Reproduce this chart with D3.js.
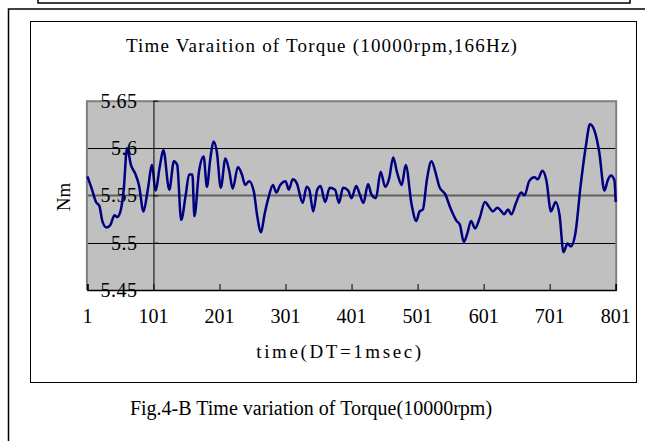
<!DOCTYPE html>
<html>
<head>
<meta charset="utf-8">
<script src="https://cdn.jsdelivr.net/npm/d3@7/dist/d3.min.js"></script>
<style>
  body { margin: 0; background: #fff; }
  svg { display: block; }
  text { font-family: "Liberation Serif", "DejaVu Serif", serif; fill: #000; }
</style>
</head>
<body>
<div class="graph"></div>
<script>
// sample index and torque (Nm)
var times = [1, 8, 14, 19, 24, 30, 36, 42, 46, 51, 56, 61, 67, 74, 79, 86, 92, 99, 104, 111,
  116, 125, 132, 137, 143, 150, 155, 160, 163, 170, 177, 182, 187, 192, 197, 203, 210, 216,
  221, 229, 235, 240, 246, 253, 258, 264, 269, 275, 282, 287, 293, 301, 306, 312, 318, 327,
  333, 337, 343, 349, 354, 361, 368, 376, 382, 388, 396, 401, 408, 413, 419, 426, 431, 438,
  445, 452, 458, 464, 470, 477, 483, 492, 499, 504, 509, 515, 522, 529, 534, 543, 551, 560,
  565, 571, 576, 582, 588, 595, 603, 609, 615, 622, 628, 632, 638, 643, 650, 658, 663, 670,
  678, 683, 690, 696, 703, 710, 716, 722, 728, 733, 740, 748, 756, 762, 769, 776, 784, 789,
  794, 799, 801];
var torque = [5.570, 5.556, 5.543, 5.539, 5.522, 5.516, 5.519, 5.529, 5.527, 5.533, 5.556,
  5.600, 5.582, 5.572, 5.561, 5.533, 5.554, 5.582, 5.555, 5.582, 5.598, 5.556, 5.586, 5.582,
  5.524, 5.551, 5.572, 5.572, 5.528, 5.575, 5.591, 5.559, 5.588, 5.607, 5.596, 5.558, 5.589,
  5.575, 5.557, 5.580, 5.572, 5.561, 5.565, 5.554, 5.529, 5.511, 5.529, 5.547, 5.561, 5.553,
  5.561, 5.565, 5.556, 5.567, 5.563, 5.542, 5.559, 5.556, 5.533, 5.556, 5.560, 5.543, 5.558,
  5.556, 5.542, 5.558, 5.555, 5.547, 5.560, 5.552, 5.542, 5.562, 5.551, 5.547, 5.575, 5.559,
  5.568, 5.590, 5.574, 5.561, 5.582, 5.540, 5.523, 5.533, 5.535, 5.566, 5.586, 5.572, 5.559,
  5.551, 5.536, 5.523, 5.519, 5.501, 5.509, 5.523, 5.515, 5.526, 5.543, 5.538, 5.533, 5.537,
  5.533, 5.530, 5.535, 5.530, 5.542, 5.553, 5.550, 5.565, 5.569, 5.567, 5.576, 5.566, 5.533,
  5.543, 5.529, 5.490, 5.499, 5.496, 5.510, 5.561, 5.603, 5.625, 5.618, 5.596, 5.555, 5.566,
  5.571, 5.566, 5.543];

var xTicks = [1, 101, 201, 301, 401, 501, 601, 701, 801];
var yTicks = [5.45, 5.5, 5.55, 5.6, 5.65];
var gridVals = [5.5, 5.55, 5.6];

var chartTitle = 'Time Varaition of Torque (10000rpm,166Hz)';
var xTitle = 'time(DT=1msec)';
var yTitle = 'Nm';
var caption = 'Fig.4-B Time variation of Torque(10000rpm)';

var config = {
  width: 645,
  height: 441,
  plot: { left: 87.4, right: 615.7, top: 100.7, bottom: 290 }
};

var svg = d3.select('.graph')
  .append('svg')
  .attr('width', config.width)
  .attr('height', config.height);

var x = d3.scaleLinear().domain([1, 801]).range([config.plot.left, config.plot.right]);
var y = d3.scaleLinear().domain([5.45, 5.65]).range([config.plot.bottom, config.plot.top]);

// Frames
svg.append('path')
  .attr('d', 'M38,0 V3 H630 V0')
  .attr('fill', 'none').attr('stroke', '#000').attr('stroke-width', 1.5);
svg.append('path')
  .attr('d', 'M8.5,441 V9 H645')
  .attr('fill', 'none').attr('stroke', '#000').attr('stroke-width', 1.5);
svg.append('rect')
  .attr('x', 30.5).attr('y', 21.5).attr('width', 606).attr('height', 361)
  .attr('fill', 'none').attr('stroke', '#000').attr('stroke-width', 1);

// Plot area
svg.append('rect')
  .attr('x', x(1) - 1).attr('y', y(5.65))
  .attr('width', x(801) - x(1) + 2).attr('height', y(5.45) - y(5.65))
  .attr('fill', '#c0c0c0');

// Gridlines
svg.selectAll('.grid')
  .data(gridVals)
  .enter()
  .append('line')
  .attr('class', 'grid')
  .attr('x1', x(1) - 1).attr('x2', x(801) + 1)
  .attr('y1', (d) =>{ return Math.round(y(d)) + 0.5; })
  .attr('y2', (d) =>{ return Math.round(y(d)) + 0.5; })
  .attr('stroke', (d) =>{ return d === 5.55 ? '#606060' : '#000'; })
  .attr('stroke-width', (d) =>{ return d === 5.55 ? 2 : 1; });

// Plot border (top, left, right)
svg.append('path')
  .attr('d', 'M' + (x(1) - 0.5) + ',' + y(5.45) + ' V' + (y(5.65) + 0.5) + ' H' + (x(801) + 0.5) + ' V' + y(5.45))
  .attr('fill', 'none').attr('stroke', '#808080').attr('stroke-width', 2);

// Y labels
svg.selectAll('.y-label')
  .data(yTicks)
  .enter()
  .append('text')
  .attr('class', 'y-label')
  .attr('x', x(101) - 16)
  .attr('y', (d) =>{ return y(d) + 7; })
  .attr('text-anchor', 'end')
  .style('font-size', '20px')
  .style('letter-spacing', '0.5px')
  .text((d) =>{ return d; });

// Line
var line = d3.line()
  .x((d, i) =>{ return x(times[i]); })
  .y((d) =>{ return y(d); })
  .curve(d3.curveMonotoneX);

svg.append('path')
  .datum(torque)
  .attr('d', line)
  .attr('fill', 'none')
  .attr('stroke', '#000080')
  .attr('stroke-width', 2.5)
  .attr('stroke-linejoin', 'round');

// Axes
var xAxis = d3.axisBottom(x).tickValues(xTicks).tickSize(-6).tickFormat('');
svg.append('g')
  .attr('transform', 'translate(0,' + y(5.45) + ')')
  .call(xAxis)
  .call((g) =>{ g.select('.domain').attr('stroke-width', 1.5); });

var yAxis = d3.axisRight(y).tickValues(yTicks).tickSize(5).tickFormat('');
svg.append('g')
  .attr('transform', 'translate(' + x(101) + ',0)')
  .call(yAxis)
  .call((g) =>{ g.select('.domain').attr('d', 'M0.5,' + y(5.65) + 'V' + y(5.45)); });

// X labels
svg.selectAll('.x-label')
  .data(xTicks)
  .enter()
  .append('text')
  .attr('class', 'x-label')
  .attr('x', (d) =>{ return x(d); })
  .attr('y', 323)
  .attr('text-anchor', 'middle')
  .style('font-size', '20px')
  .text((d) =>{ return d; });

// Titles
svg.append('text')
  .attr('x', 322).attr('y', 52)
  .attr('text-anchor', 'middle')
  .style('font-size', '19px')
  .style('letter-spacing', '1.2px')
  .text(chartTitle);

svg.append('text')
  .attr('x', 340).attr('y', 358)
  .attr('text-anchor', 'middle')
  .style('font-size', '19px')
  .style('letter-spacing', '2.6px')
  .text(xTitle);

svg.append('text')
  .attr('transform', 'translate(70,197) rotate(-90)')
  .attr('text-anchor', 'middle')
  .style('font-size', '19px')
  .text(yTitle);

svg.append('text')
  .attr('x', 311).attr('y', 415)
  .attr('text-anchor', 'middle')
  .style('font-size', '20px')
  .text(caption);
</script>
</body>
</html>
